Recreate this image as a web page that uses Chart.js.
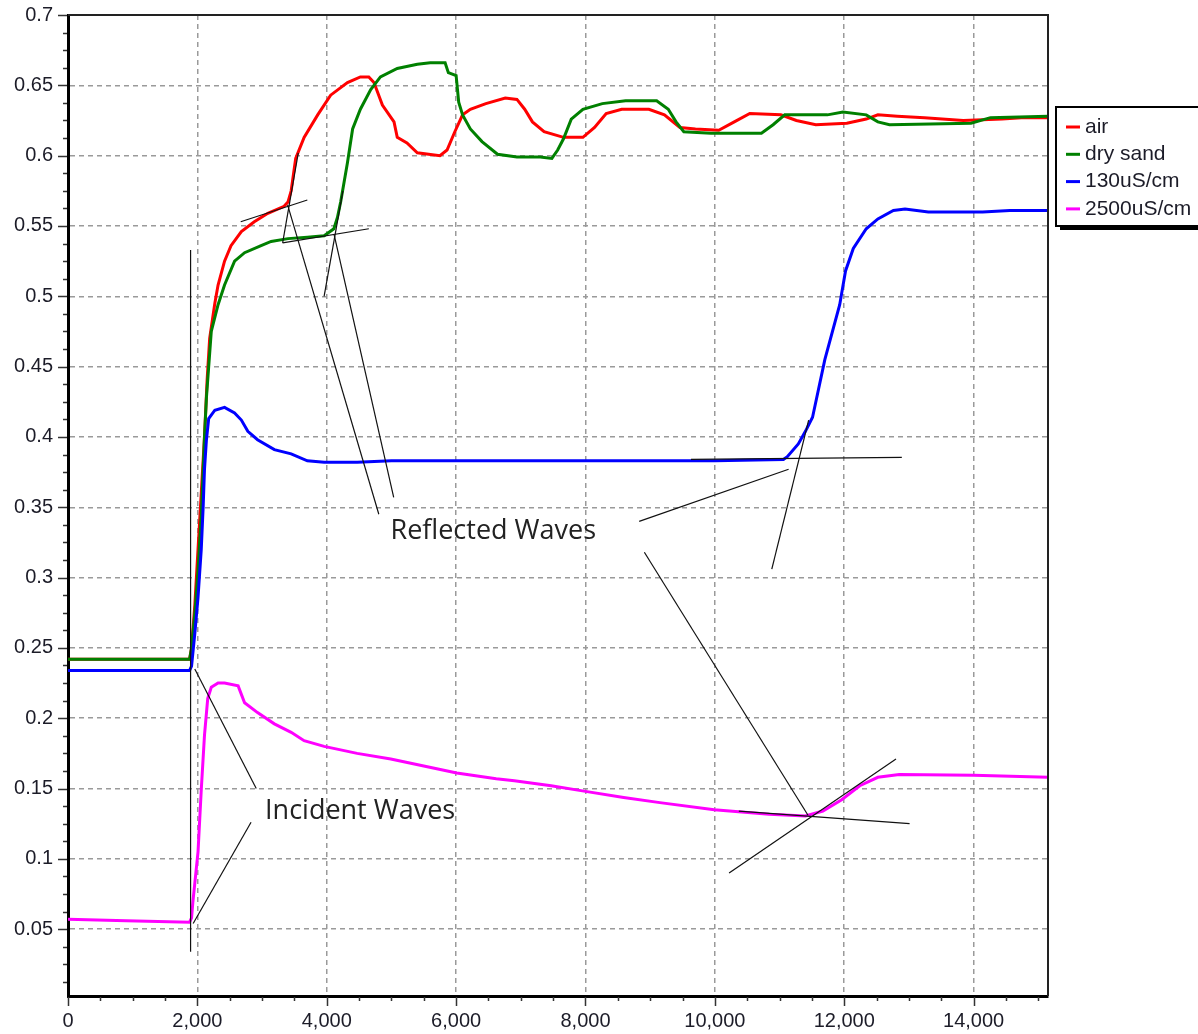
<!DOCTYPE html>
<html>
<head>
<meta charset="utf-8">
<script src="https://cdn.jsdelivr.net/npm/chart.js@4.4.1/dist/chart.umd.min.js"></script>
<style>
  html, body { margin: 0; padding: 0; background: #fff; overflow: hidden; }
  canvas { display: block; }
</style>
</head>
<body>
<canvas id="chart" width="1198" height="1034"></canvas>
<script>
// series (x = sample, y = voltage)
const airX = [0, 1880, 1910, 1960, 2010, 2060, 2110, 2150, 2190, 2270, 2320, 2420, 2520, 2680, 2880, 3090, 3340, 3400, 3450, 3520, 3650, 3860, 4060, 4320, 4520, 4650, 4730, 4860, 5040, 5090, 5240, 5400, 5750, 5860, 5980, 6100, 6220, 6460, 6760, 6940, 7060, 7180, 7360, 7660, 7960, 8140, 8320, 8560, 8980, 9220, 9460, 9700, 10060, 10300, 10540, 11020, 11260, 11560, 12040, 12340, 12520, 12820, 13240, 13840, 14440, 14740, 15150];
const airY = [0.242, 0.242, 0.25, 0.28, 0.32, 0.36, 0.40, 0.44, 0.47, 0.495, 0.508, 0.525, 0.536, 0.546, 0.553, 0.559, 0.564, 0.567, 0.575, 0.598, 0.613, 0.629, 0.643, 0.652, 0.656, 0.656, 0.652, 0.636, 0.624, 0.613, 0.609, 0.602, 0.600, 0.604, 0.617, 0.629, 0.633, 0.637, 0.641, 0.640, 0.633, 0.624, 0.617, 0.613, 0.613, 0.620, 0.630, 0.633, 0.633, 0.629, 0.620, 0.619, 0.618, 0.624, 0.630, 0.629, 0.625, 0.622, 0.623, 0.626, 0.629, 0.628, 0.627, 0.625, 0.626, 0.627, 0.627];

const sandX = [0, 1880, 1910, 1960, 2010, 2060, 2110, 2140, 2215, 2320, 2420, 2575, 2730, 2985, 3140, 3400, 3700, 3960, 4110, 4165, 4215, 4320, 4400, 4520, 4680, 4830, 5090, 5400, 5600, 5830, 5880, 6000, 6040, 6100, 6220, 6400, 6640, 6940, 7300, 7480, 7570, 7660, 7780, 7960, 8260, 8620, 9100, 9280, 9400, 9520, 9940, 10720, 10900, 11080, 11740, 11980, 12340, 12520, 12700, 13960, 14260, 15150];
const sandY = [0.242, 0.242, 0.25, 0.274, 0.305, 0.344, 0.40, 0.428, 0.475, 0.494, 0.508, 0.525, 0.531, 0.536, 0.539, 0.541, 0.542, 0.543, 0.548, 0.556, 0.567, 0.595, 0.619, 0.633, 0.647, 0.656, 0.662, 0.665, 0.666, 0.666, 0.659, 0.657, 0.638, 0.629, 0.619, 0.610, 0.601, 0.599, 0.599, 0.598, 0.604, 0.612, 0.626, 0.633, 0.637, 0.639, 0.639, 0.633, 0.624, 0.617, 0.616, 0.616, 0.622, 0.629, 0.629, 0.631, 0.629, 0.624, 0.622, 0.623, 0.627, 0.628];

const lowX = [0, 1880, 1910, 1960, 2010, 2060, 2090, 2110, 2140, 2175, 2270, 2420, 2575, 2680, 2780, 2930, 3190, 3450, 3700, 3960, 4470, 5000, 6600, 8000, 10000, 11060, 11120, 11290, 11400, 11510, 11700, 11930, 12020, 12140, 12340, 12520, 12760, 12940, 13300, 14140, 14560, 15150];
const lowY = [0.234, 0.234, 0.237, 0.26, 0.286, 0.32, 0.351, 0.377, 0.398, 0.413, 0.419, 0.421, 0.417, 0.412, 0.404, 0.398, 0.391, 0.388, 0.383, 0.382, 0.382, 0.383, 0.383, 0.383, 0.383, 0.384, 0.386, 0.395, 0.404, 0.414, 0.455, 0.494, 0.518, 0.534, 0.548, 0.555, 0.561, 0.562, 0.560, 0.560, 0.561, 0.561];

const highX = [0, 900, 1880, 1910, 1930, 2010, 2060, 2110, 2160, 2215, 2320, 2420, 2630, 2730, 2930, 3190, 3450, 3650, 3960, 4470, 4990, 5500, 6010, 6620, 6900, 7470, 8000, 8590, 9150, 9990, 10840, 11400, 11670, 11960, 12240, 12520, 12850, 14000, 15150];
const highY = [0.057, 0.056, 0.055, 0.058, 0.069, 0.105, 0.149, 0.188, 0.214, 0.222, 0.225, 0.225, 0.223, 0.211, 0.204, 0.196, 0.190, 0.184, 0.180, 0.175, 0.171, 0.166, 0.161, 0.157, 0.1555, 0.152, 0.148, 0.1436, 0.140, 0.135, 0.1317, 0.1305, 0.134, 0.142, 0.152, 0.158, 0.160, 0.1595, 0.158];

const seriesNames = ['air', 'dry sand', '130uS/cm', '2500uS/cm'];
const seriesColors = ['#ff0000', '#008000', '#0000ff', '#ff00ff'];

const xTicks = [0, 2000, 4000, 6000, 8000, 10000, 12000, 14000];
const yTicks = [0.05, 0.1, 0.15, 0.2, 0.25, 0.3, 0.35, 0.4, 0.45, 0.5, 0.55, 0.6, 0.65, 0.7];

// hand-drawn helper lines, [x1, y1, x2, y2] in data units
const noteLines = [
    [1895, 0.034, 1895, 0.533],
    [1960, 0.235, 2910, 0.150],
    [1935, 0.054, 2830, 0.126],
    [2670, 0.553, 3700, 0.5685],
    [3318, 0.538, 4651, 0.548],
    [3318, 0.538, 3560, 0.602],
    [3395, 0.565, 4805, 0.345],
    [3959, 0.500, 4250, 0.575],
    [4113, 0.544, 5035, 0.357],
    [9630, 0.384, 12890, 0.3855],
    [10880, 0.306, 11450, 0.412],
    [8830, 0.340, 11140, 0.377],
    [8910, 0.318, 11440, 0.131],
    [10370, 0.134, 13010, 0.125],
    [10220, 0.090, 12800, 0.171]
];
const noteTexts = [
    { text: 'Reflected Waves', x: 4985, y: 0.333 },
    { text: 'Incident Waves', x: 3046, y: 0.134 }
];

const tickFont = { family: "'Liberation Sans', Arial, sans-serif", size: 20 };
const textColor = '#1c1c28';

function pts(xs, ys) { return xs.map((x, i) => ({ x, y: ys[i] })); }

const curves = [[airX, airY], [sandX, sandY], [lowX, lowY], [highX, highY]].map((s, i) => ({
    label: seriesNames[i],
    data: pts(s[0], s[1]),
    borderColor: seriesColors[i],
    backgroundColor: seriesColors[i],
    borderWidth: 3,
    showLine: true,
    pointRadius: 0,
    tension: 0,
    order: 4 - i
}));

const notes = noteLines.map(l => ({
    label: '',
    data: [{ x: l[0], y: l[1] }, { x: l[2], y: l[3] }],
    borderColor: '#111',
    borderWidth: 1.2,
    showLine: true,
    pointRadius: 0,
    order: 0
}));

const extras = {
    id: 'extras',
    afterDraw(chart) {
        const { ctx, chartArea: a, scales: { x, y } } = chart;
        ctx.save();
        // top / right frame
        ctx.strokeStyle = '#222';
        ctx.lineWidth = 2;
        ctx.beginPath();
        ctx.moveTo(a.left, a.top); ctx.lineTo(a.right, a.top); ctx.lineTo(a.right, a.bottom);
        ctx.stroke();

        // tick marks, major + minor
        ctx.strokeStyle = '#333';
        ctx.lineWidth = 1.5;
        ctx.beginPath();
        for (let v = 0; v <= 15000; v += 500) {
            const px = Math.round(x.getPixelForValue(v)) + 0.5;
            const len = v % 2000 === 0 ? 9 : 4;
            ctx.moveTo(px, a.bottom + 1); ctx.lineTo(px, a.bottom + 1 + len);
        }
        for (let k = 1; k <= 56; k++) {
            const py = Math.round(y.getPixelForValue(k * 0.0125)) + 0.5;
            const len = k % 4 === 0 ? 9 : 4;
            ctx.moveTo(a.left - 1, py); ctx.lineTo(a.left - 1 - len, py);
        }
        ctx.stroke();

        // annotation texts
        ctx.fillStyle = '#222';
        ctx.font = "27px 'Open Sans', sans-serif";
        ctx.textBaseline = 'middle';
        ctx.textAlign = 'left';
        noteTexts.forEach(t => ctx.fillText(t.text, x.getPixelForValue(t.x), y.getPixelForValue(t.y)));

        // legend box
        const lx = 1056, ly = 107, lw = 160, lh = 119;
        ctx.fillStyle = '#000';
        ctx.fillRect(lx + 4, ly + 4, lw, lh);
        ctx.fillStyle = '#fff';
        ctx.fillRect(lx, ly, lw, lh);
        ctx.strokeStyle = '#000';
        ctx.lineWidth = 2;
        ctx.strokeRect(lx, ly, lw, lh);
        ctx.font = "21px 'Liberation Sans', Arial, sans-serif";
        ctx.fillStyle = textColor;
        seriesNames.forEach((n, i) => {
            const ry = 127 + i * 27.3;
            ctx.strokeStyle = seriesColors[i];
            ctx.lineWidth = 3;
            ctx.beginPath(); ctx.moveTo(1066, ry); ctx.lineTo(1080, ry); ctx.stroke();
            ctx.fillText(n, 1085, ry);
        });
        ctx.restore();
    }
};

new Chart(document.getElementById('chart'), {
    type: 'scatter',
    data: { datasets: curves.concat(notes) },
    options: {
        responsive: false,
        animation: false,
        layout: { padding: { left: 0, right: 150, top: 15, bottom: 0 } },
        plugins: { legend: { display: false }, tooltip: { enabled: false } },
        scales: {
            x: {
                type: 'linear', min: 0, max: 15150,
                afterBuildTicks: s => { s.ticks = xTicks.map(v => ({ value: v })); },
                afterFit: s => { s.height = 38; s.paddingLeft = 0; s.paddingRight = 0; },
                ticks: { callback: v => v.toLocaleString('en-US'), font: tickFont, color: textColor, padding: 13, maxRotation: 0, autoSkip: false },
                grid: { color: c => (c.tick && c.tick.value === 0) ? 'rgba(0,0,0,0)' : '#9a9a9a', lineWidth: 1.5, drawTicks: false },
                border: { display: true, color: '#000', width: 3, dash: [5, 4] }
            },
            y: {
                type: 'linear', min: 0.0025, max: 0.7,
                afterBuildTicks: s => { s.ticks = yTicks.map(v => ({ value: v })); },
                afterFit: s => { s.width = 68; s.paddingTop = 0; s.paddingBottom = 0; },
                ticks: { callback: v => String(v), font: tickFont, color: textColor, padding: 15, autoSkip: false },
                grid: { color: c => (c.tick && c.tick.value === 0.7) ? 'rgba(0,0,0,0)' : '#9a9a9a', lineWidth: 1.5, drawTicks: false },
                border: { display: true, color: '#000', width: 3, dash: [5, 4] }
            }
        }
    },
    plugins: [extras]
});
</script>
</body>
</html>
